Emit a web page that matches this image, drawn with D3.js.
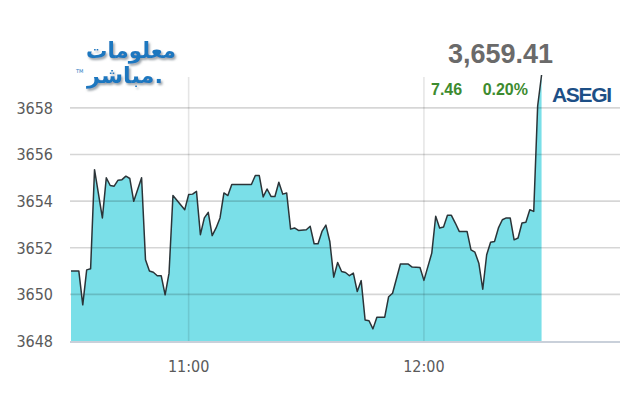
<!DOCTYPE html>
<html><head><meta charset="utf-8">
<script src="https://cdn.jsdelivr.net/npm/d3@7"></script>
<style>html,body{margin:0;padding:0;background:#fff;}svg{display:block;}</style>
</head><body>
<svg id="chart" width="640" height="400"></svg>
<script>
const times = ["10:30","10:32","10:33","10:34","10:35","10:36","10:38","10:39","10:40","10:41","10:42","10:43","10:44","10:45","10:46","10:48","10:49","10:50","10:51","10:52","10:53","10:54","10:55","10:56","10:59",
"11:00","11:01","11:02","11:03","11:04","11:05","11:06","11:07","11:08","11:09","11:10","11:11","11:16","11:17","11:18","11:19","11:20","11:21","11:22","11:23","11:24","11:25","11:26","11:27","11:28",
"11:30","11:31","11:32","11:33","11:34","11:35","11:36","11:37","11:38","11:39","11:40","11:41","11:42","11:43","11:44","11:45","11:46","11:47","11:48","11:50","11:51","11:52","11:54","11:56","11:57","11:59",
"12:00","12:02","12:03","12:04","12:05","12:06","12:07","12:08","12:09","12:11","12:12","12:13","12:14","12:15","12:16","12:17","12:18","12:19","12:20","12:21","12:22","12:23","12:24","12:25","12:26","12:27","12:28","12:29","12:30"];
const values = [3651.00,3651.00,3649.55,3651.05,3651.10,3655.35,3653.28,3655.00,3654.67,3654.64,3654.90,3654.92,3655.07,3654.97,3653.99,3655.00,3651.48,3651.00,3650.95,3650.80,3650.80,3649.98,3650.91,3654.24,3653.63,
3654.28,3654.30,3654.42,3652.56,3653.28,3653.52,3652.52,3652.85,3653.28,3654.35,3654.24,3654.71,3654.71,3655.10,3655.10,3654.18,3654.52,3654.20,3654.20,3654.81,3654.30,3654.35,3652.80,3652.85,3652.74,
3652.77,3652.92,3652.17,3652.17,3652.70,3652.97,3652.27,3650.74,3651.37,3650.98,3650.94,3650.80,3650.91,3650.12,3650.59,3648.90,3648.87,3648.52,3649.02,3649.02,3649.90,3650.05,3651.30,3651.30,3651.17,3651.15,
3650.60,3651.77,3653.35,3652.85,3652.89,3653.39,3653.39,3653.06,3652.70,3652.70,3651.91,3651.81,3651.34,3650.22,3651.70,3652.24,3652.27,3652.85,3653.20,3653.28,3653.28,3652.34,3652.42,3653.06,3653.09,3653.63,3653.56,3658.08,3659.41];
const yTicks = [3648,3650,3652,3654,3656,3658];
const xTickLabels = ["11:00","12:00"];
const xDomain = ["10:30","12:50"];
const lastValue = "3,659.41";
const change = "7.46";
const changePct = "0.20%";
const indexName = "ASEGI";
const logoLines = ["معلومات","مباشر."];

const parse = d3.timeParse("%H:%M");
const n = Math.min(times.length, values.length);
const data = d3.range(n).map(i => ({t: parse(times[i]), v: values[i]}));

const svg = d3.select("#chart");
const defs = svg.append("defs");
const f = defs.append("filter").attr("id", "shadow").attr("x", "-10%").attr("y", "-20%").attr("width", "130%").attr("height", "150%");
f.append("feDropShadow").attr("dx", 1.5).attr("dy", 2).attr("stdDeviation", 0.8).attr("flood-color", "#7d8790").attr("flood-opacity", 0.8);

const x = d3.scaleTime().domain(xDomain.map(parse)).range([71, 620]);
const y = d3.scaleLinear().domain([3648, 3659.41]).range([341, 75]);

// area
const area = d3.area().x(d => x(d.t)).y0(y(3648)).y1(d => y(d.v));
svg.append("path").datum(data).attr("d", area).attr("fill", "#7adfe8");

// horizontal gridlines (above area, translucent)
svg.append("g").selectAll("line").data(yTicks.filter(v => v > 3648)).join("line")
  .attr("x1", 70).attr("x2", 620).attr("y1", d => y(d)).attr("y2", d => y(d))
  .attr("stroke", "rgba(0,0,0,0.16)").attr("stroke-width", 1.6);

// vertical gridlines
svg.append("g").selectAll("line").data(xTickLabels.map(parse)).join("line")
  .attr("x1", d => x(d)).attr("x2", d => x(d)).attr("y1", 77).attr("y2", 341)
  .attr("stroke", "rgba(0,0,0,0.10)").attr("stroke-width", 1.6);

// line
const line = d3.line().x(d => x(d.t)).y(d => y(d.v));
svg.append("path").datum(data).attr("d", line).attr("fill", "none")
  .attr("stroke", "#2b3438").attr("stroke-width", 1.5).attr("stroke-linejoin", "round");

// x axis baseline
svg.append("line").attr("x1", 70).attr("x2", 620).attr("y1", 342).attr("y2", 342)
  .attr("stroke", "#c9d0da").attr("stroke-width", 2);

const fontAxis = "'Liberation Sans Narrow','DejaVu Sans Condensed',sans-serif";
// y labels
svg.append("g").selectAll("text").data(yTicks).join("text")
  .attr("x", 53).attr("y", d => y(d)).attr("dy", "0.36em").attr("text-anchor", "end")
  .attr("font-family", fontAxis).attr("font-size", 16).attr("fill", "#5a5a5a")
  .text(d => d);
// x labels
svg.append("g").selectAll("text").data(xTickLabels).join("text")
  .attr("x", d => x(parse(d))).attr("y", 372).attr("text-anchor", "middle")
  .attr("font-family", fontAxis).attr("font-size", 16).attr("fill", "#5a5a5a")
  .text(d => d);

// header texts
svg.append("text").attr("x", 553).attr("y", 63).attr("text-anchor", "end")
  .attr("font-family", "Liberation Sans, Arial, sans-serif").attr("font-weight", "bold")
  .attr("font-size", 27).attr("fill", "#6a6a6a").text(lastValue);
svg.append("text").attr("x", 431).attr("y", 95)
  .attr("font-family", "Liberation Sans, Arial, sans-serif").attr("font-weight", "bold")
  .attr("font-size", 16).attr("fill", "#3d8b2f").text(change);
svg.append("text").attr("x", 528).attr("y", 95).attr("text-anchor", "end")
  .attr("font-family", "Liberation Sans, Arial, sans-serif").attr("font-weight", "bold")
  .attr("font-size", 16).attr("fill", "#3d8b2f").text(changePct);
svg.append("text").attr("x", 552).attr("y", 101.5)
  .attr("font-family", "Liberation Sans, Arial, sans-serif").attr("font-weight", "bold")
  .attr("font-size", 21).attr("fill", "#1d4f86").attr("textLength", 60).text(indexName);

// logo
const logo = svg.append("g").attr("filter", "url(#shadow)");
[[logoLines[0], 176, 58, 90], [logoLines[1], 163, 83, 76]].forEach(([txt, xr, yb, w]) => {
  logo.append("text").attr("x", xr).attr("y", yb).attr("text-anchor", "end")
    .attr("font-family", "'DejaVu Sans', sans-serif").attr("font-weight", "bold")
    .attr("font-size", 22).attr("fill", "#1e77bf").attr("textLength", w).attr("lengthAdjust", "spacingAndGlyphs").text(txt);
});
svg.append("text").attr("x", 76).attr("y", 73).attr("font-family", "'DejaVu Sans', sans-serif")
  .attr("font-size", 5).attr("fill", "#1e77bf").text("TM");
</script>
</body></html>
